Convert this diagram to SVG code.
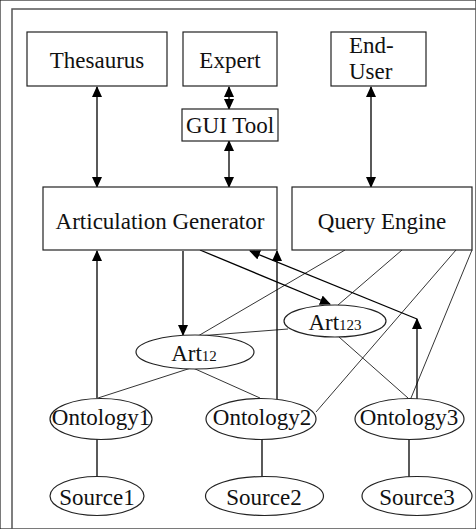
<svg xmlns="http://www.w3.org/2000/svg" width="476" height="529" viewBox="0 0 476 529">
<defs>
<marker id="ah" markerUnits="userSpaceOnUse" markerWidth="11" markerHeight="10" refX="10" refY="5" orient="auto-start-reverse" viewBox="0 0 11 10">
<path d="M0,0 L11,5 L0,10 z" fill="#000"/>
</marker>
<style>
rect,ellipse{fill:#fff;stroke:#222;stroke-width:1.2}
text{font-size:23px;fill:#111}
.a{stroke:#000;stroke-width:1.3;fill:none}
.t{stroke:#000;stroke-width:0.8;fill:none}
.frame{stroke:#555;stroke-width:1.5;fill:none}
.sub{font-size:15px}
</style>
</defs>
<rect width="476" height="529" fill="#fff" stroke="none"/>
<path class="frame" d="M12,529 V9 H476"/>

<g id="connectors">
<line class="a" x1="97" y1="87" x2="97" y2="187" marker-start="url(#ah)" marker-end="url(#ah)"/>
<line class="a" x1="229" y1="87" x2="229" y2="109" marker-start="url(#ah)" marker-end="url(#ah)"/>
<line class="a" x1="229" y1="141" x2="229" y2="187" marker-start="url(#ah)" marker-end="url(#ah)"/>
<line class="a" x1="371" y1="87" x2="371" y2="187" marker-start="url(#ah)" marker-end="url(#ah)"/>
<line class="a" x1="97" y1="398" x2="97" y2="251" marker-end="url(#ah)"/>
<line class="a" x1="183" y1="251" x2="183" y2="335" marker-end="url(#ah)"/>
<line class="a" x1="277" y1="399" x2="277" y2="251" marker-end="url(#ah)"/>
<line class="a" x1="200" y1="250" x2="330" y2="304" marker-end="url(#ah)"/>
<line class="a" x1="417" y1="400" x2="417" y2="319" marker-end="url(#ah)"/>
<line class="a" x1="417" y1="319" x2="250" y2="251" marker-end="url(#ah)"/>
<line class="t" x1="345" y1="250" x2="198" y2="336"/>
<line class="t" x1="402" y1="250" x2="338" y2="305"/>
<line class="t" x1="456" y1="250" x2="316" y2="412"/>
<line class="t" x1="472" y1="250" x2="411" y2="398"/>
<line class="t" x1="339" y1="337" x2="408" y2="398"/>
<line class="t" x1="198" y1="336" x2="288" y2="329"/>
<line class="t" x1="191" y1="368" x2="98" y2="398"/>
<line class="t" x1="193" y1="368" x2="260" y2="398"/>
<line class="a" x1="97" y1="439" x2="97" y2="477"/>
<line class="a" x1="262" y1="439" x2="262" y2="477"/>
<line class="a" x1="409" y1="439" x2="409" y2="477"/>
</g>

<g id="labels" font-family="'Liberation Serif', Tinos, 'Times New Roman', 'DejaVu Serif', serif">
<g id="thesaurus"><rect x="27" y="32" width="140" height="54"/><text x="97" y="68" text-anchor="middle">Thesaurus</text></g>
<g id="expert"><rect x="183" y="32" width="94" height="54"/><text x="230" y="68" text-anchor="middle">Expert</text></g>
<g id="gui-tool"><rect x="182" y="109" width="96" height="32"/><text x="230" y="133" text-anchor="middle">GUI Tool</text></g>
<g id="end-user"><rect x="331" y="32" width="95" height="54"/><text x="349" y="53">End-</text><text x="349" y="79">User</text></g>
<g id="articulation-generator"><rect x="43" y="187" width="234" height="63"/><text x="160" y="229" text-anchor="middle">Articulation Generator</text></g>
<g id="query-engine"><rect x="292" y="187" width="180" height="63"/><text x="382" y="229" text-anchor="middle">Query Engine</text></g>
<g id="art123"><ellipse cx="335" cy="321" rx="51" ry="16"/><text x="335" y="330" text-anchor="middle">Art<tspan class="sub">123</tspan></text></g>
<g id="art12"><ellipse cx="195" cy="352" rx="59" ry="17"/><text x="194" y="361" text-anchor="middle">Art<tspan class="sub">12</tspan></text></g>
<g id="ontology1"><ellipse cx="101" cy="419" rx="51" ry="20.5"/><text x="101" y="425" text-anchor="middle">Ontology1</text></g>
<g id="ontology2"><ellipse cx="261" cy="419" rx="55" ry="20.5"/><text x="262" y="425" text-anchor="middle">Ontology2</text></g>
<g id="ontology3"><ellipse cx="409.5" cy="419" rx="54.5" ry="20.5"/><text x="409" y="425" text-anchor="middle">Ontology3</text></g>
<g id="source1"><ellipse cx="97" cy="496" rx="47" ry="19.5"/><text x="97" y="505" text-anchor="middle">Source1</text></g>
<g id="source2"><ellipse cx="264.5" cy="496" rx="59" ry="19.5"/><text x="264" y="505" text-anchor="middle">Source2</text></g>
<g id="source3"><ellipse cx="417" cy="496" rx="55" ry="19.5"/><text x="417" y="505" text-anchor="middle">Source3</text></g>
</g>
</svg>
